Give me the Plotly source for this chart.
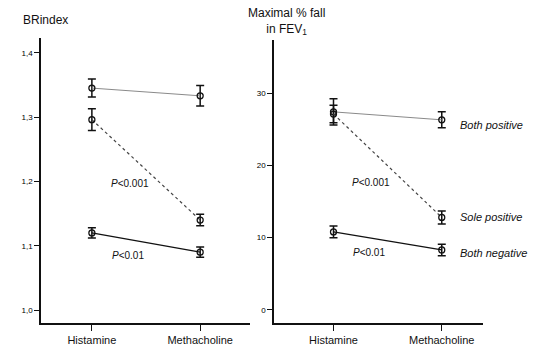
import plotly.graph_objects as go

categories = ["Histamine", "Methacholine"]
groups = ["Both positive", "Sole positive", "Both negative"]

# BRindex (left panel)
br_mean = {"Both positive": [1.345, 1.333], "Sole positive": [1.296, 1.140], "Both negative": [1.120, 1.090]}
br_err = {"Both positive": [0.014, 0.016], "Sole positive": [0.017, 0.009], "Both negative": [0.008, 0.008]}

# Maximal % fall in FEV1 (right panel)
fev_mean = {"Both positive": [27.4, 26.3], "Sole positive": [27.1, 12.8], "Both negative": [10.8, 8.3]}
fev_err = {"Both positive": [1.8, 1.1], "Sole positive": [1.2, 0.9], "Both negative": [0.8, 0.8]}

left_ticks = [1.0, 1.1, 1.2, 1.3, 1.4]
left_ticktext = ["1,0", "1,1", "1,2", "1,3", "1,4"]
right_ticks = [0, 10, 20, 30]

styles = {
    "Both positive": dict(color="#8a8a8a", width=1, dash="solid"),
    "Sole positive": dict(color="#444444", width=1.2, dash="dot"),
    "Both negative": dict(color="#111111", width=1.3, dash="solid"),
}

fig = go.Figure()
for panel, (means, errs, xa, ya) in enumerate([(br_mean, br_err, "x", "y"), (fev_mean, fev_err, "x2", "y2")]):
    for g in groups:
        fig.add_trace(go.Scatter(
            x=categories, y=means[g], xaxis=xa, yaxis=ya,
            mode="lines+markers",
            line=styles[g],
            marker=dict(symbol="circle-open", size=6, color="#111", line=dict(width=1.3, color="#111")),
            error_y=dict(type="data", array=errs[g], visible=True, color="#111", thickness=1.5, width=4),
            showlegend=False,
        ))

font_family = "Liberation Sans, Arial, sans-serif"
axis_common = dict(showline=True, linecolor="#111", linewidth=1.5, ticks="outside",
                   tickcolor="#111", showgrid=False, zeroline=False, mirror=False)

fig.update_layout(
    width=533, height=351,
    margin=dict(l=0, r=0, t=0, b=0),
    paper_bgcolor="white", plot_bgcolor="white",
    font=dict(family=font_family, color="#111"),
    xaxis=dict(domain=[0.0769, 0.469], type="category", range=[-0.47, 1.46], anchor="y",
               ticklen=6, tickwidth=1.3, tickfont=dict(size=11, color="#111"), **axis_common),
    yaxis=dict(domain=[0.0798, 0.892], range=[0.98, 1.423], anchor="x",
               tickvals=left_ticks, ticktext=left_ticktext, ticklen=5, tickwidth=1,
               tickfont=dict(size=8, color="#000"), **axis_common),
    xaxis2=dict(domain=[0.514, 0.906], type="category", range=[-0.55, 1.38], anchor="y2",
                ticklen=6, tickwidth=1.3, tickfont=dict(size=11, color="#111"), **axis_common),
    yaxis2=dict(domain=[0.0798, 0.886], range=[-1.8, 37.34], anchor="x2",
                tickvals=right_ticks, ticklen=5, tickwidth=1,
                tickfont=dict(size=8, color="#000"), **axis_common),
)

ann = []
ann.append(dict(x=45 / 533, y=1 - 20 / 351, xref="paper", yref="paper", text="BRindex",
                showarrow=False, font=dict(size=12), xanchor="center", yanchor="middle"))
ann.append(dict(x=286 / 533, y=1 - 22 / 351, xref="paper", yref="paper",
                text="Maximal % fall<br>in FEV<sub>1</sub>",
                showarrow=False, font=dict(size=12), xanchor="center", yanchor="middle"))
# p-values
ann.append(dict(x=0.35, y=1.1975, xref="x", yref="y", text="<i>P</i>&lt;0.001", showarrow=False, font=dict(size=10)))
ann.append(dict(x=0.33, y=1.085, xref="x", yref="y", text="<i>P</i>&lt;0.01", showarrow=False, font=dict(size=10)))
ann.append(dict(x=0.35, y=17.7, xref="x2", yref="y2", text="<i>P</i>&lt;0.001", showarrow=False, font=dict(size=10)))
ann.append(dict(x=0.33, y=7.9, xref="x2", yref="y2", text="<i>P</i>&lt;0.01", showarrow=False, font=dict(size=10)))
# group labels
label_y = {"Both positive": 25.6, "Sole positive": 12.9, "Both negative": 7.9}
for g in groups:
    ann.append(dict(x=1.15, y=label_y[g], xref="x2", yref="y2", text="<i>" + g + "</i>",
                    showarrow=False, xanchor="left", font=dict(size=11)))
fig.update_layout(annotations=ann)

fig.write_html("out.html")
